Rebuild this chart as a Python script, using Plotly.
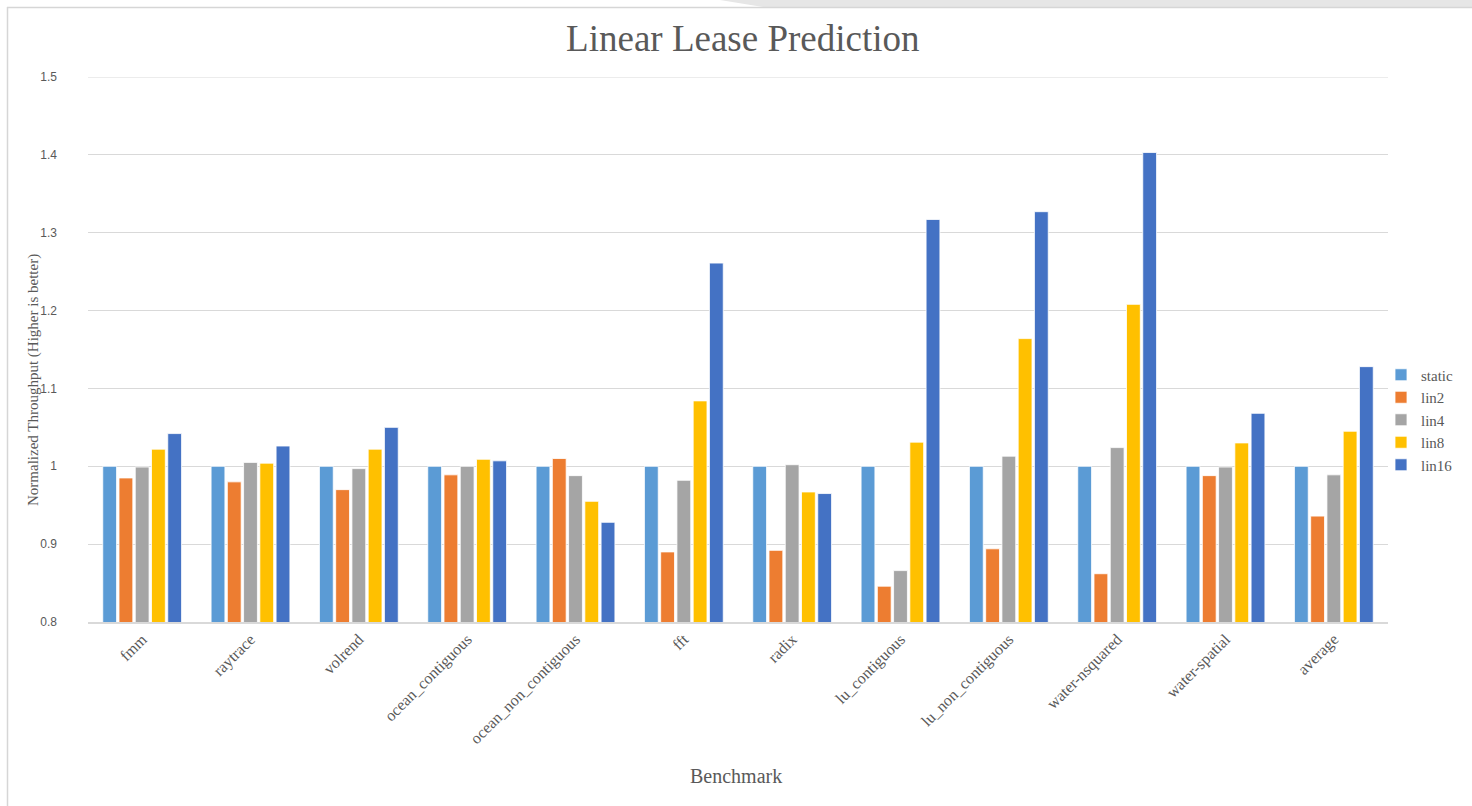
import plotly.graph_objects as go

# Benchmarks on the category axis
benchmarks = [
    "fmm", "raytrace", "volrend", "ocean_contiguous", "ocean_non_contiguous",
    "fft", "radix", "lu_contiguous", "lu_non_contiguous", "water-nsquared",
    "water-spatial", "average",
]

# Normalized throughput per lease predictor
static = [1.000] * 12
lin2 = [0.985, 0.980, 0.970, 0.989, 1.010, 0.890, 0.892, 0.846, 0.894, 0.862, 0.988, 0.936]
lin4 = [0.999, 1.005, 0.997, 1.000, 0.988, 0.982, 1.002, 0.866, 1.013, 1.024, 0.999, 0.989]
lin8 = [1.022, 1.004, 1.022, 1.009, 0.955, 1.084, 0.967, 1.031, 1.164, 1.208, 1.030, 1.045]
lin16 = [1.042, 1.026, 1.050, 1.007, 0.928, 1.261, 0.965, 1.317, 1.327, 1.403, 1.068, 1.128]

series_names = ["static", "lin2", "lin4", "lin8", "lin16"]
series_values = [static, lin2, lin4, lin8, lin16]
series_colors = ["#5B9BD5", "#ED7D31", "#A5A5A5", "#FFC000", "#4472C4"]

y_ticks = [0.8, 0.9, 1.0, 1.1, 1.2, 1.3, 1.4, 1.5]
y_tick_text = ["0.8", "0.9", "1", "1.1", "1.2", "1.3", "1.4", "1.5"]

W, H = 1472, 806
ML, MR, MT, MB = 88, 84, 77, 184
PW, PH = W - ML - MR, H - MT - MB

SERIF = "Liberation Serif, Times New Roman, serif"
SANS = "Liberation Sans, Arial, sans-serif"
GRAY = "#595959"
GRID = "#D9D9D9"


def px(x):
    return (x - ML) / PW


def py(y):
    return (H - MB - y) / PH


fig = go.Figure()
for name, vals, color in zip(series_names, series_values, series_colors):
    fig.add_trace(go.Bar(
        name=name, x=benchmarks, y=vals,
        marker=dict(color=color, line=dict(color="white", width=0.8)),
    ))

shapes = [
    # top gridline sits on the range edge, so draw it explicitly
    dict(type="line", xref="paper", yref="y", x0=0, x1=1, y0=1.5, y1=1.5,
         line=dict(color=GRID, width=1), layer="below"),
    # window frame around the chart sheet
    dict(type="path", xref="paper", yref="paper",
         path=f"M {px(720)} {py(0)} L {px(1472)} {py(0)} L {px(1472)} {py(7)} L {px(763)} {py(7)} Z",
         fillcolor="#E6E6E6", line=dict(width=0), layer="below"),
    dict(type="line", xref="paper", yref="paper",
         x0=px(7), x1=px(1472), y0=py(7.5), y1=py(7.5),
         line=dict(color="#D6D6D6", width=1.5)),
    dict(type="line", xref="paper", yref="paper",
         x0=px(7.5), x1=px(7.5), y0=py(7), y1=py(806),
         line=dict(color="#D6D6D6", width=1.5)),
]

fig.update_layout(
    width=W, height=H,
    margin=dict(l=ML, r=MR, t=MT, b=MB),
    paper_bgcolor="white", plot_bgcolor="white",
    barmode="group", bargap=0.25, bargroupgap=0.15,
    title=dict(text="Linear Lease Prediction", x=px(744), xanchor="center",
               y=1 - 38 / H, yanchor="middle",
               font=dict(family=SERIF, size=37, color=GRAY)),
    legend=dict(x=px(1381), xanchor="left", y=py(420), yanchor="middle",
                font=dict(family=SERIF, size=15, color=GRAY),
                itemwidth=30, tracegroupgap=0, bgcolor="rgba(0,0,0,0)"),
    shapes=shapes,
    annotations=[
        dict(text="Normalized Throughput (Higher is better)", xref="paper", yref="paper",
             x=px(33), y=py(380), textangle=-90, showarrow=False,
             xanchor="center", yanchor="middle",
             font=dict(family=SERIF, size=15, color=GRAY)),
        dict(text="Benchmark", xref="paper", yref="paper",
             x=px(736), y=py(776), showarrow=False,
             xanchor="center", yanchor="middle",
             font=dict(family=SERIF, size=20, color=GRAY)),
    ],
)

fig.update_xaxes(
    tickangle=-45, tickfont=dict(family=SERIF, size=16, color=GRAY),
    showline=True, linecolor=GRID, linewidth=1.5,
    showgrid=False, ticks="",
)
fig.update_yaxes(
    range=[0.8, 1.5], tickvals=y_ticks, ticktext=y_tick_text,
    tickfont=dict(family=SANS, size=12, color=GRAY),
    showgrid=True, gridcolor=GRID, gridwidth=1,
    zeroline=False, showline=False, ticks="", ticklabelstandoff=30,
)

fig.write_html("out.html")
